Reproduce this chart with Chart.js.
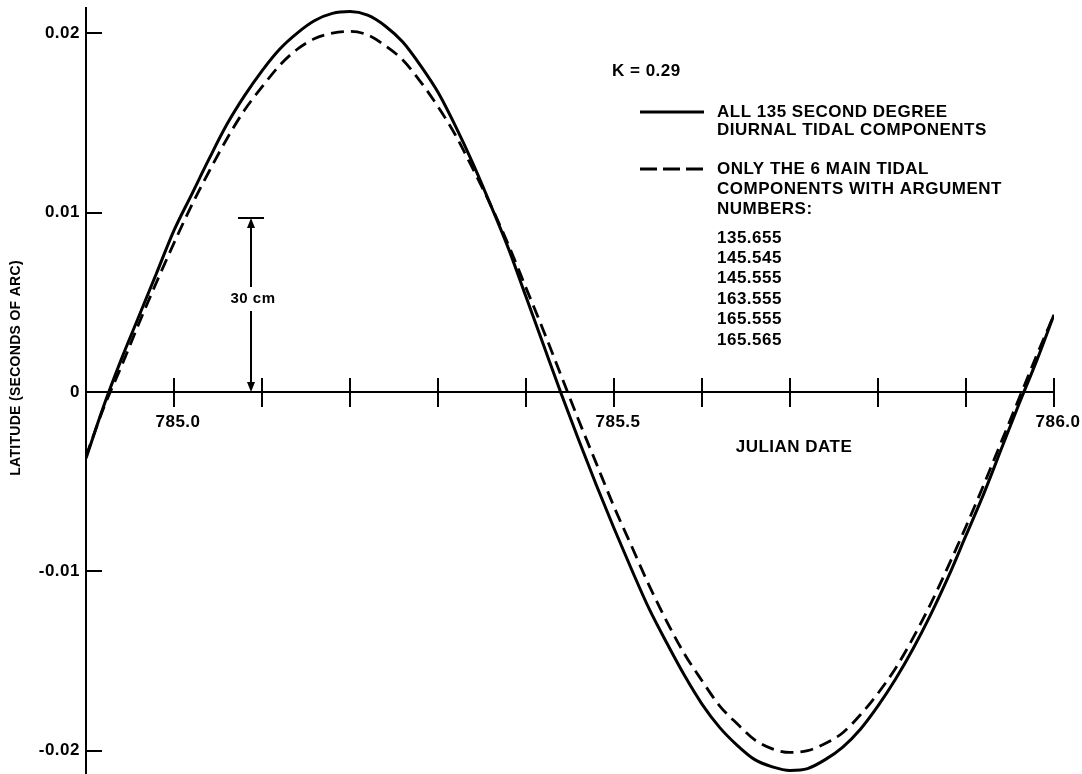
<!DOCTYPE html>
<html>
<head>
<meta charset="utf-8">
<script src="https://cdn.jsdelivr.net/npm/chart.js@4.4.1/dist/chart.umd.min.js"></script>
<style>
  html, body { margin: 0; padding: 0; background: #fff; }
  #wrap { width: 1082px; height: 774px; }
</style>
</head>
<body>
<div id="wrap"><canvas id="chart" width="1082" height="774"></canvas></div>
<script>
// julian date of each sample
var days = [784.90, 784.92, 784.94, 784.96, 784.98, 785.00, 785.02, 785.04, 785.06, 785.08,
            785.10, 785.12, 785.14, 785.16, 785.18, 785.20, 785.22, 785.24, 785.26, 785.28,
            785.30, 785.32, 785.34, 785.36, 785.38, 785.40, 785.42, 785.44, 785.46, 785.48,
            785.50, 785.52, 785.54, 785.56, 785.58, 785.60, 785.62, 785.64, 785.66, 785.68,
            785.70, 785.72, 785.74, 785.76, 785.78, 785.80, 785.82, 785.84, 785.86, 785.88,
            785.90, 785.92, 785.94, 785.96, 785.98, 786.00];

// latitude, seconds of arc - all 135 components (solid)
var all_components = [-0.0037, -0.0008, 0.0018, 0.0042, 0.0066, 0.0090, 0.0110, 0.0130, 0.0149, 0.0165,
                      0.0179, 0.0191, 0.0200, 0.0207, 0.0211, 0.0212, 0.0210, 0.0204, 0.0195, 0.0182,
                      0.0167, 0.0148, 0.0127, 0.0104, 0.0080, 0.0053, 0.0026, -0.0001, -0.0027, -0.0052,
                      -0.0076, -0.0099, -0.0121, -0.0140, -0.0158, -0.0174, -0.0187, -0.0197, -0.0205, -0.0209,
                      -0.0211, -0.0210, -0.0205, -0.0198, -0.0188, -0.0175, -0.0160, -0.0143, -0.0124, -0.0103,
                      -0.0080, -0.0057, -0.0032, -0.0007, 0.0017, 0.0043];

// only the 6 main components (dashed)
var main_components = [-0.0036, -0.0009, 0.0014, 0.0038, 0.0061, 0.0083, 0.0104, 0.0123, 0.0141, 0.0157,
                       0.0170, 0.0182, 0.0191, 0.0197, 0.0200, 0.0201, 0.0199, 0.0193, 0.0185, 0.0173,
                       0.0159, 0.0143, 0.0124, 0.0104, 0.0082, 0.0058, 0.0034, 0.0009, -0.0016, -0.0040,
                       -0.0064, -0.0086, -0.0108, -0.0128, -0.0146, -0.0161, -0.0175, -0.0185, -0.0194, -0.0199,
                       -0.0201, -0.0200, -0.0196, -0.0190, -0.0180, -0.0168, -0.0154, -0.0137, -0.0118, -0.0097,
                       -0.0075, -0.0052, -0.0028, -0.0004, 0.0020, 0.0043];

var x_ticks = [785.0, 785.1, 785.2, 785.3, 785.4, 785.5, 785.6, 785.7, 785.8, 785.9, 786.0];
var x_labels = ['785.0', '', '', '', '', '785.5', '', '', '', '', '786.0'];
var y_ticks = [0.02, 0.01, 0, -0.01, -0.02];
var y_labels = ['0.02', '0.01', '0', '-0.01', '-0.02'];

var x_title = 'JULIAN DATE';
var y_title = 'LATITUDE (SECONDS OF ARC)';
var k_label = 'K = 0.29';
var solid_label = ['ALL 135 SECOND DEGREE', 'DIURNAL TIDAL COMPONENTS'];
var dashed_label = ['ONLY THE 6 MAIN TIDAL', 'COMPONENTS WITH ARGUMENT', 'NUMBERS:'];
var argument_numbers = ['135.655', '145.545', '145.555', '163.555', '165.555', '165.565'];

// 30 cm scale marker
var marker_date = 785.088;
var marker_value = 0.0097;
var marker_label = '30 cm';

const FONT = "'Liberation Sans', Arial, sans-serif";

function points(values) {
    return days.map((d, i) => ({x: d, y: values[i]}));
}

function no_padding(s) {
    s.paddingTop = 0;
    s.paddingBottom = 0;
    s.paddingLeft = 0;
    s.paddingRight = 0;
}

var decorations = {
    id: 'decorations',
    beforeDraw(chart) {
        chart.ctx.letterSpacing = '0.5px';
    },
    afterDraw(chart) {
        var ctx = chart.ctx;
        var xs = chart.scales.x;
        var ys = chart.scales.y;
        var y0 = ys.getPixelForValue(0);
        var left = chart.chartArea.left;

        ctx.save();
        ctx.strokeStyle = '#000';
        ctx.fillStyle = '#000';
        ctx.lineWidth = 2;

        // x ticks cross the axis
        x_ticks.forEach(v => {
            var px = Math.round(xs.getPixelForValue(v));
            ctx.beginPath();
            ctx.moveTo(px, y0 - 14);
            ctx.lineTo(px, y0 + 15);
            ctx.stroke();
        });
        // y ticks point inward
        y_ticks.forEach(v => {
            var py = Math.round(ys.getPixelForValue(v));
            ctx.beginPath();
            ctx.moveTo(left, py);
            ctx.lineTo(left + 16, py);
            ctx.stroke();
        });

        // 30 cm marker
        var mx = Math.round(xs.getPixelForValue(marker_date));
        var mt = ys.getPixelForValue(marker_value);
        var mid = (mt + y0) / 2 - 6;
        ctx.beginPath();
        ctx.moveTo(mx - 13, mt); ctx.lineTo(mx + 13, mt);
        ctx.moveTo(mx, mt + 4); ctx.lineTo(mx, mid - 12);
        ctx.moveTo(mx, mid + 12); ctx.lineTo(mx, y0 - 4);
        ctx.stroke();
        ctx.beginPath();
        ctx.moveTo(mx, mt); ctx.lineTo(mx - 4, mt + 10); ctx.lineTo(mx + 4, mt + 10); ctx.closePath();
        ctx.moveTo(mx, y0); ctx.lineTo(mx - 4, y0 - 10); ctx.lineTo(mx + 4, y0 - 10); ctx.closePath();
        ctx.fill();

        ctx.textBaseline = 'middle';
        ctx.textAlign = 'center';
        ctx.letterSpacing = '0.5px';
        ctx.font = 'bold 15px ' + FONT;
        ctx.fillText(marker_label, mx + 2, mid);

        // axis titles
        ctx.font = 'bold 17px ' + FONT;
        ctx.fillText(x_title, 794, 447);
        ctx.save();
        ctx.translate(16, 368);
        ctx.rotate(-Math.PI / 2);
        ctx.letterSpacing = '0.3px';
        ctx.font = 'bold 14px ' + FONT;
        ctx.fillText(y_title, 0, 0);
        ctx.restore();

        // key
        ctx.textAlign = 'left';
        ctx.font = 'bold 17px ' + FONT;
        ctx.letterSpacing = '0.5px';
        ctx.fillText(k_label, 612, 71);

        ctx.lineWidth = 3;
        ctx.beginPath();
        ctx.moveTo(640, 112); ctx.lineTo(704, 112);
        ctx.stroke();
        ctx.fillText(solid_label[0], 717, 112);
        ctx.fillText(solid_label[1], 717, 130);

        ctx.setLineDash([17, 6]);
        ctx.beginPath();
        ctx.moveTo(640, 169); ctx.lineTo(704, 169);
        ctx.stroke();
        ctx.setLineDash([]);
        ctx.fillText(dashed_label[0], 717, 169);
        ctx.fillText(dashed_label[1], 717, 189);
        ctx.fillText(dashed_label[2], 717, 209);
        argument_numbers.forEach((s, i) => {
            ctx.fillText(s, 717, 238 + i * 20.4);
        });
        ctx.restore();
    }
};

new Chart(document.getElementById('chart'), {
    type: 'line',
    data: {
        datasets: [
            {
                data: points(all_components),
                borderColor: '#000',
                borderWidth: 3,
                pointRadius: 0,
                cubicInterpolationMode: 'monotone',
                fill: false,
            },
            {
                data: points(main_components),
                borderColor: '#000',
                borderWidth: 2.8,
                borderDash: [13, 7],
                pointRadius: 0,
                cubicInterpolationMode: 'monotone',
                fill: false,
            },
        ],
    },
    options: {
        responsive: false,
        animation: false,
        devicePixelRatio: 1,
        layout: { padding: { top: 8, right: 28, bottom: 0, left: 0 } },
        plugins: {
            legend: { display: false },
            tooltip: { enabled: false },
        },
        scales: {
            x: {
                type: 'linear',
                min: 784.9,
                max: 786.0,
                position: { y: 0 },
                afterFit: no_padding,
                afterBuildTicks: s => { s.ticks = x_ticks.map(v => ({value: v})); },
                grid: { display: false, drawTicks: false },
                border: { display: true, color: '#000', width: 2 },
                ticks: {
                    autoSkip: false,
                    maxRotation: 0,
                    padding: 20,
                    labelOffset: 4,
                    color: '#000',
                    font: { family: FONT, size: 17, weight: 'bold' },
                    callback: (v, i) => x_labels[i],
                },
            },
            y: {
                type: 'linear',
                position: 'left',
                min: -0.0213,
                max: 0.0214,
                afterFit: s => { s.width = 86; no_padding(s); },
                afterBuildTicks: s => { s.ticks = y_ticks.map(v => ({value: v})); },
                grid: { display: false, drawTicks: false },
                border: { display: true, color: '#000', width: 2 },
                ticks: {
                    padding: 6,
                    color: '#000',
                    font: { family: FONT, size: 17, weight: 'bold' },
                    callback: (v, i) => y_labels[i],
                },
            },
        },
    },
    plugins: [decorations],
});
</script>
</body>
</html>
